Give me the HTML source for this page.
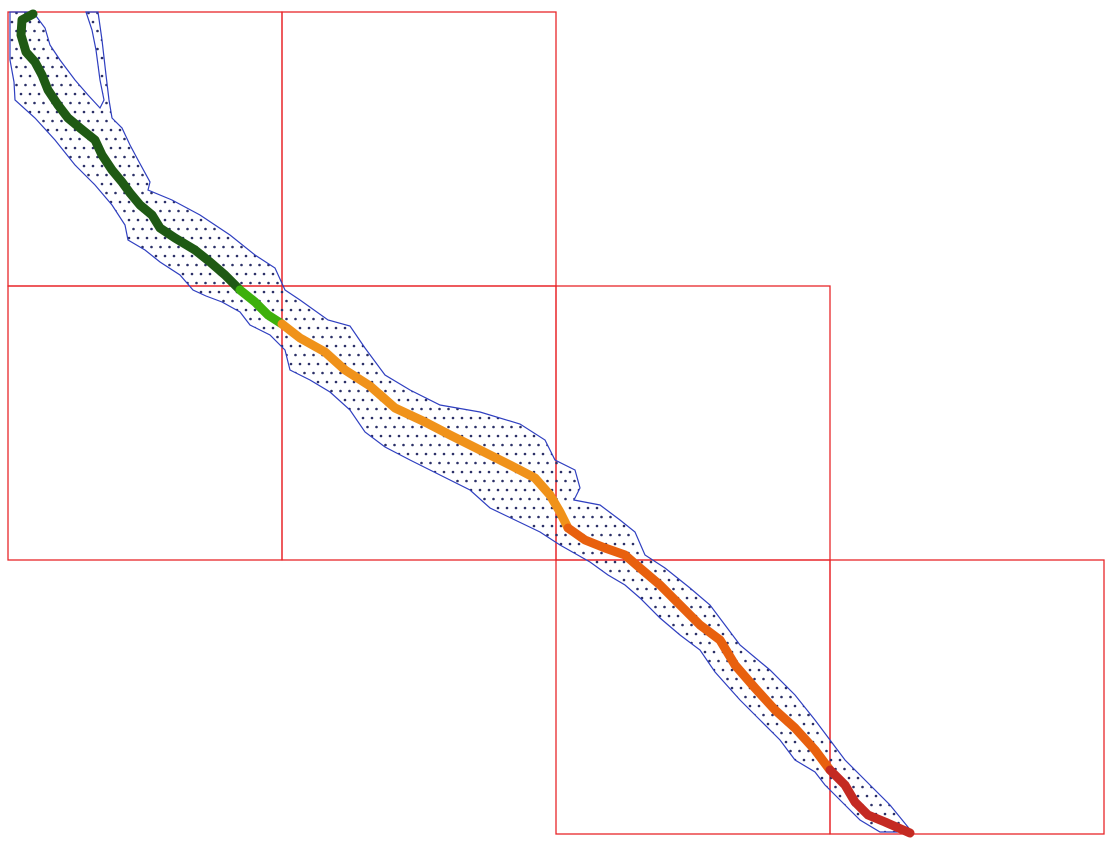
<!DOCTYPE html>
<html><head><meta charset="utf-8"><style>
html,body{margin:0;padding:0;background:#fff;width:1113px;height:846px;overflow:hidden}
</style></head><body>
<svg id="map" width="1113" height="846" viewBox="0 0 1113 846" xmlns="http://www.w3.org/2000/svg">
<defs>
<pattern id="dots" width="18" height="18" patternUnits="userSpaceOnUse">
<circle cx="3" cy="4" r="1.3" fill="#2a2f66"/>
<circle cx="12" cy="4" r="1.3" fill="#2a2f66"/>
<circle cx="7.5" cy="13" r="1.3" fill="#2a2f66"/>
<circle cx="16.5" cy="13" r="1.3" fill="#2a2f66"/>
</pattern>
</defs>
<g id="grid"></g>
<g id="area"></g>
<g id="route"></g>
</svg>
<script>
const tileCols=[0,1,0,1,2,2,3];
const tileRows=[0,0,1,1,1,2,2];
const corridor=[[10,12],[33,12],[45,28],[50,45],[60,60],[75,80],[88,95],[100,108],[104,100],[100,80],[96,50],[92,30],[86,12],[98,12],[102,40],[106,75],[109,100],[112,118],[122,128],[130,145],[138,160],[150,182],[148,190],[172,200],[200,215],[230,235],[255,255],[275,268],[285,290],[300,300],[328,320],[350,326],[365,348],[385,375],[410,390],[440,405],[480,412],[520,424],[545,440],[555,460],[575,470],[580,488],[574,500],[600,505],[620,520],[635,532],[645,555],[665,568],[690,588],[710,605],[725,625],[740,645],[770,670],[795,695],[815,720],[830,740],[845,760],[870,785],[890,805],[912,832],[880,832],[860,820],[840,800],[825,785],[815,772],[795,760],[780,740],[760,720],[740,700],[715,672],[700,650],[680,635],[660,618],[640,598],[625,585],[608,575],[590,562],[560,545],[540,532],[515,520],[490,508],[470,490],[440,475],[410,460],[385,447],[365,432],[350,410],[330,392],[310,380],[290,370],[285,350],[270,335],[250,325],[240,312],[222,302],[206,296],[193,290],[180,275],[160,262],[145,250],[128,240],[125,225],[112,205],[95,185],[75,165],[55,140],[35,118],[15,100],[14,82],[10,60],[10,35]];
const routeColors=["#1f5a14","#3db00c","#f0921a","#e8600e","#c42a22"];
const routeSegs=[
[[33,14],[22,20],[21,35],[26,52],[35,62],[42,75],[48,90],[58,105],[68,118],[80,128],[95,140],[102,155],[112,170],[122,182],[130,193],[140,205],[152,215],[160,228],[175,238],[195,250],[210,262],[225,275],[240,290]],
[[240,290],[255,302],[268,315],[282,324]],
[[282,324],[300,338],[325,352],[345,370],[370,386],[395,408],[425,422],[450,435],[480,450],[512,466],[535,478],[550,495],[560,512],[568,528]],
[[568,528],[585,540],[605,548],[625,555],[640,568],[660,585],[680,605],[700,625],[720,640],[735,665],[755,688],[775,710],[795,728],[815,750],[830,770]],
[[830,770],[845,785],[855,802],[868,815],[885,822],[910,833]]];
const NS="http://www.w3.org/2000/svg";
const T=274,X0=8,Y0=12;
const g=document.getElementById('grid');
tileCols.forEach((c,i)=>{const r=document.createElementNS(NS,'rect');


r.setAttribute('x',X0+c*T);r.setAttribute('y',Y0+tileRows[i]*T);r.setAttribute('width',T);r.setAttribute('height',T);
r.setAttribute('fill','none');r.setAttribute('stroke','#e8262a');r.setAttribute('stroke-width','1.3');g.appendChild(r);});
const a=document.getElementById('area');
const p=document.createElementNS(NS,'polygon');


p.setAttribute('points',corridor.map(q=>q.join(',')).join(' '));
p.setAttribute('fill','url(#dots)');p.setAttribute('stroke','#2f3fc0');p.setAttribute('stroke-width','1.2');a.appendChild(p);
const rt=document.getElementById('route');
routeSegs.forEach((s,i)=>{const l=document.createElementNS(NS,'polyline');


l.setAttribute('points',s.map(q=>q.join(',')).join(' '));
l.setAttribute('fill','none');l.setAttribute('stroke',routeColors[i]);l.setAttribute('stroke-width','9');
l.setAttribute('stroke-linecap','round');l.setAttribute('stroke-linejoin','round');rt.appendChild(l);});
</script>
</body></html>
